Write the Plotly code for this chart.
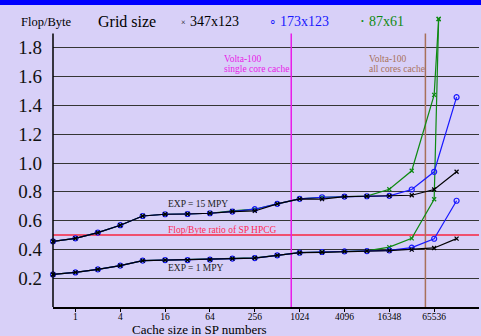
import plotly.graph_objects as go

# ---------------- data ----------------
sizes = [0.5, 1, 2, 4, 8, 16, 32, 64, 128, 256, 512, 1024, 2048, 4096,
         8192, 16384, 32768, 65536, 131072]

# EXP = 15 MPY (upper group)
up_347 = [0.456, 0.477, 0.517, 0.568, 0.632, 0.644, 0.646, 0.651, 0.663, 0.667,
          0.716, 0.751, 0.749, 0.767, 0.769, 0.772, 0.776, 0.816, 0.939]
up_173 = [0.456, 0.477, 0.517, 0.568, 0.632, 0.644, 0.646, 0.651, 0.663, 0.679,
          0.716, 0.751, 0.762, 0.767, 0.769, 0.772, 0.816, 0.939, 1.457]
up_87_x = [0.5, 1, 2, 4, 8, 16, 32, 64, 128, 256, 512, 1024, 2048, 4096,
           8192, 16384, 32768, 65536, 75281]
up_87 = [0.456, 0.477, 0.517, 0.568, 0.632, 0.644, 0.646, 0.651, 0.667, 0.679,
         0.716, 0.751, 0.762, 0.767, 0.770, 0.818, 0.946, 1.473, 2.0]

# EXP = 1 MPY (lower group)
lo_347 = [0.226, 0.240, 0.261, 0.287, 0.322, 0.326, 0.326, 0.329, 0.336, 0.340,
          0.359, 0.377, 0.380, 0.386, 0.388, 0.391, 0.398, 0.410, 0.475]
lo_173 = [0.226, 0.240, 0.261, 0.287, 0.322, 0.326, 0.326, 0.329, 0.336, 0.340,
          0.359, 0.377, 0.382, 0.386, 0.388, 0.393, 0.412, 0.474, 0.738]
lo_87 = [0.226, 0.240, 0.261, 0.287, 0.322, 0.326, 0.326, 0.329, 0.337, 0.341,
         0.359, 0.377, 0.382, 0.386, 0.390, 0.416, 0.477, 0.748, 2.0]

hpcg_ratio = 0.5
volta_single_core = 790
volta_all_cores = 50000
cache_top = 1.9

xtick_vals = [1, 4, 16, 64, 256, 1024, 4096, 16384, 65536]
xtick_text = ["1", "4", "16", "64", "256", "1024", "4096", "16348", "65536"]
ytick_vals = [0.2, 0.4, 0.6, 0.8, 1.0, 1.2, 1.4, 1.6, 1.8]
ytick_text = ["0.2", "0.4", "0.6", "0.8", "1.0", "1.2", "1.4", "1.6", "1.8"]

# ---------------- styling ----------------
W, H = 481, 336
ML, MR, MT, MB = 53, 2, 19, 29
PW, PH = W - ML - MR, H - MT - MB
SERIF = "Liberation Serif"
BG = "#d8d0f8"
BLACK, BLUE, GREEN = "#000000", "#1818ff", "#0e8a12"
MAGENTA, BROWN, RED = "#e81ce8", "#a8705a", "#f0506e"


def px(x):
    return (x - ML) / PW


def py(y):
    return (H - MB - y) / PH


fig = go.Figure()

# vertical cache lines
fig.add_trace(go.Scatter(x=[volta_single_core] * 2, y=[0, cache_top], mode="lines",
                         line=dict(color=MAGENTA, width=1.5), showlegend=False,
                         hoverinfo="skip"))
fig.add_trace(go.Scatter(x=[volta_all_cores] * 2, y=[0, cache_top], mode="lines",
                         line=dict(color=BROWN, width=1.5), showlegend=False,
                         hoverinfo="skip"))


def series(x, y, color, symbol, size):
    fig.add_trace(go.Scatter(
        x=x, y=y, mode="lines+markers",
        line=dict(color=color, width=1.2),
        marker=dict(symbol=symbol, size=size, color=color,
                    line=dict(color=color, width=1.2)),
        showlegend=False, cliponaxis=False))


series(up_87_x, up_87, GREEN, "x-thin", 4)
series(up_87_x, lo_87, GREEN, "x-thin", 4)
series(sizes, up_173, BLUE, "circle-open", 5)
series(sizes, lo_173, BLUE, "circle-open", 5)
series(sizes, up_347, BLACK, "x-thin", 4)
series(sizes, lo_347, BLACK, "x-thin", 4)

shapes = [
    # HPCG ratio line
    dict(type="line", xref="paper", yref="y", x0=0, x1=1, y0=hpcg_ratio, y1=hpcg_ratio,
         line=dict(color=RED, width=2), layer="below"),
    # left axis line
    dict(type="line", xref="paper", yref="y", x0=0, x1=0, y0=0, y1=cache_top,
         line=dict(color="#000000", width=1.5)),
    # top blue bar
    dict(type="rect", xref="paper", yref="paper", x0=px(-5), x1=px(W + 5),
         y0=py(5), y1=py(-5), fillcolor="#0000ff", line=dict(width=0)),
]

ann = []


def text(x, y, s, size, color="#000000", xanchor="center"):
    ann.append(dict(x=px(x), y=py(y), xref="paper", yref="paper", text=s,
                    showarrow=False, xanchor=xanchor, yanchor="middle",
                    font=dict(family=SERIF, size=size, color=color)))


# legend row
text(45.5, 22, "Flop/Byte", 12.5)
text(127, 21.5, "Grid size", 16)
text(183, 22.5, "×", 8)
text(188, 21.5, "347x123", 14, xanchor="left")
text(273, 21.5, "∘", 12, BLUE)
text(278, 21.5, "173x123", 14, BLUE, xanchor="left")
text(362, 22, "•", 8, GREEN)
text(367, 21.5, "87x61", 14, GREEN, xanchor="left")

# in-plot labels
text(222, 58.5, "Volta-100", 9.5, MAGENTA, xanchor="left")
text(222, 69.3, "single core cache", 9.5, MAGENTA, xanchor="left")
text(367, 58.5, "Volta-100", 9.5, BROWN, xanchor="left")
text(367, 69.3, "all cores cache", 9.5, BROWN, xanchor="left")
text(165.5, 204, "EXP = 15 MPY", 9.5, "#222222", xanchor="left")
text(165.5, 229.5, "Flop/Byte ratio of SP HPCG", 9.5, "#ff2a55", xanchor="left")
text(165.5, 267.5, "EXP = 1 MPY", 9.5, "#222222", xanchor="left")

# x-axis title
text(199.5, 329.5, "Cache size in SP numbers", 13)

fig.update_layout(
    width=W, height=H,
    margin=dict(l=ML, r=MR, t=MT, b=MB, pad=0),
    paper_bgcolor=BG, plot_bgcolor=BG,
    showlegend=False,
    font=dict(family=SERIF),
    shapes=shapes, annotations=ann,
    xaxis=dict(type="log", range=[-0.30103, 5.41854],
               tickvals=xtick_vals, ticktext=xtick_text,
               tickfont=dict(family=SERIF, size=9.5, color="#000"),
               showgrid=False, zeroline=False,
               showline=True, linecolor="#000", linewidth=1.5,
               ticks="outside", ticklen=3, tickwidth=1, tickcolor="#000",
               ticklabelstandoff=-3),
    yaxis=dict(range=[0, 2.0], tickvals=ytick_vals, ticktext=ytick_text,
               tickfont=dict(family=SERIF, size=19, color="#111"),
               showgrid=True, gridcolor="#353535", gridwidth=1.3,
               zeroline=False, showline=False, ticks="",
               ticklabelstandoff=10),
)

fig.write_html("out.html",
               config={"displayModeBar": False},
               post_script="document.body.style.margin='0';"
                           "document.body.style.background='" + BG + "';")
